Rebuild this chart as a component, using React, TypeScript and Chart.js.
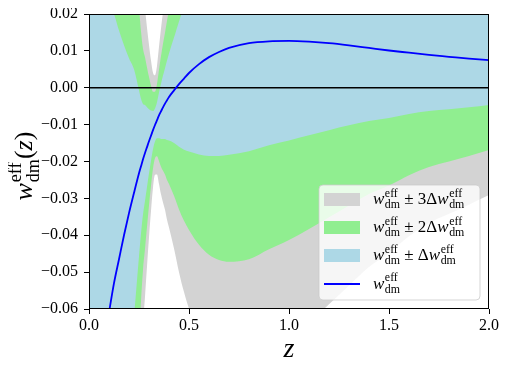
import React, { useEffect, useRef } from "react";
import { Chart, registerables } from "chart.js";
Chart.register(...registerables);

// redshift grid
const zGrid = [0, 0.05, 0.1, 0.125, 0.15, 0.175, 0.2, 0.225, 0.25, 0.26, 0.27, 0.28, 0.29, 0.3, 0.31, 0.32, 0.33, 0.34, 0.35, 0.36, 0.37, 0.38, 0.39, 0.4, 0.425, 0.45, 0.475, 0.5, 0.55, 0.6, 0.65, 0.7, 0.8, 0.9, 1.0, 1.1, 1.2, 1.3, 1.4, 1.5, 1.6, 1.7, 1.8, 1.9, 2.0];
// w_dm^eff(z)
const wEff = [-0.098, -0.078, -0.061, -0.053, -0.0465, -0.040, -0.034, -0.0285, -0.0232, -0.0213, -0.0194, -0.0177, -0.0161, -0.0145, -0.0130, -0.0115, -0.0101, -0.0088, -0.0075, -0.0064, -0.0053, -0.0043, -0.0034, -0.0025, -0.0007, 0.0010, 0.0025, 0.0040, 0.0064, 0.0083, 0.0097, 0.0108, 0.0121, 0.0126, 0.0127, 0.0125, 0.0121, 0.0115, 0.0108, 0.0101, 0.0095, 0.0089, 0.0084, 0.0079, 0.0075];
// Delta w_dm^eff(z)
const dwEff = [0.14, 0.11, 0.084, 0.073, 0.062, 0.0515, 0.042, 0.0335, 0.0225, 0.0183, 0.0150, 0.0130, 0.0108, 0.0087, 0.0068, 0.0052, 0.0045, 0.0049, 0.0062, 0.0075, 0.0086, 0.0096, 0.0108, 0.0118, 0.0143, 0.0170, 0.0193, 0.0213, 0.0245, 0.0268, 0.0282, 0.0290, 0.0293, 0.0282, 0.0270, 0.0254, 0.0236, 0.0217, 0.0198, 0.0183, 0.0166, 0.0152, 0.0142, 0.0132, 0.0122];
// sigma multiples of the bands (drawn widest first)
const sigmaLevels = [3, 2, 1];
const bandColors = ["#d3d3d3", "#90ee90", "#add8e6"];
const xTickValues = [0, 0.5, 1.0, 1.5, 2.0];
const yTickValues = [-0.06, -0.05, -0.04, -0.03, -0.02, -0.01, 0.0, 0.01, 0.02];

const SERIF = '"Liberation Serif", "DejaVu Serif", serif';

function drawWeff(ctx: CanvasRenderingContext2D, x: number, y: number, size: number): number {
  ctx.font = `italic ${size}px ${SERIF}`;
  ctx.fillText("w", x, y);
  x += ctx.measureText("w").width + size * 0.03;
  const s = size * 0.7;
  ctx.font = `${s}px ${SERIF}`;
  ctx.fillText("eff", x, y - size * 0.42);
  ctx.fillText("dm", x, y + size * 0.25);
  x += Math.max(ctx.measureText("eff").width, ctx.measureText("dm").width);
  return x;
}
function measureWeff(ctx: CanvasRenderingContext2D, size: number): number {
  ctx.font = `italic ${size}px ${SERIF}`;
  let w = ctx.measureText("w").width + size * 0.03;
  ctx.font = `${size * 0.7}px ${SERIF}`;
  w += Math.max(ctx.measureText("eff").width, ctx.measureText("dm").width);
  return w;
}

const decorPlugin = {
  id: "decor",
  afterDraw(chart: any) {
    const ctx: CanvasRenderingContext2D = chart.ctx;
    const a = chart.chartArea;
    ctx.save();
    // spines
    ctx.strokeStyle = "#000";
    ctx.lineWidth = 1;
    const l = Math.round(a.left) + 0.5, r = Math.round(a.right) - 0.5;
    const t = Math.round(a.top) + 0.5, b = Math.round(a.bottom) - 0.5;
    ctx.strokeRect(l, t, r - l, b - t);

    ctx.fillStyle = "#000";
    ctx.textBaseline = "alphabetic";
    ctx.textAlign = "left";
    // x label
    ctx.font = `italic 28px ${SERIF}`;
    const zw = ctx.measureText("z").width;
    ctx.fillText("z", (a.left + a.right) / 2 - zw / 2, 349);

    // y label (rotated)
    const ys = 26;
    ctx.font = `${ys}px ${SERIF}`;
    const pw = ctx.measureText("(").width * 2;
    ctx.font = `italic ${ys}px ${SERIF}`;
    const zzw = ctx.measureText("z").width;
    const total = measureWeff(ctx, ys) + pw + zzw;
    ctx.save();
    ctx.translate(24, 158);
    ctx.rotate(-Math.PI / 2);
    let x = -total / 2;
    x = drawWeff(ctx, x, 0, ys);
    ctx.font = `${ys}px ${SERIF}`;
    ctx.fillText("(", x, 0);
    x += pw / 2;
    ctx.font = `italic ${ys}px ${SERIF}`;
    ctx.fillText("z", x, 0);
    x += zzw;
    ctx.font = `${ys}px ${SERIF}`;
    ctx.fillText(")", x, 0);
    ctx.restore();

    // legend
    const bx = 311, by = 177, bw = 161, bh = 115, rad = 4;
    ctx.beginPath();
    ctx.moveTo(bx + rad, by);
    ctx.arcTo(bx + bw, by, bx + bw, by + bh, rad);
    ctx.arcTo(bx + bw, by + bh, bx, by + bh, rad);
    ctx.arcTo(bx, by + bh, bx, by, rad);
    ctx.arcTo(bx, by, bx + bw, by, rad);
    ctx.closePath();
    ctx.fillStyle = "rgba(255,255,255,0.8)";
    ctx.fill();
    ctx.strokeStyle = "rgba(204,204,204,0.8)";
    ctx.lineWidth = 1;
    ctx.stroke();

    const fs = 17;
    const rows = [191.5, 219.5, 247.5, 276];
    sigmaLevels.forEach((k, i) => {
      const cy = rows[i];
      ctx.fillStyle = bandColors[i];
      ctx.fillRect(316, cy - 6.5, 36, 13);
      ctx.fillStyle = "#000";
      let tx = drawWeff(ctx, 365, cy + 4.5, fs);
      ctx.font = `${fs}px ${SERIF}`;
      const mid = k === 1 ? " \u00b1 \u0394" : ` \u00b1 ${k}\u0394`;
      ctx.fillText(mid, tx, cy + 4.5);
      tx += ctx.measureText(mid).width;
      drawWeff(ctx, tx, cy + 4.5, fs);
    });
    ctx.strokeStyle = "#0000ff";
    ctx.lineWidth = 1.8;
    ctx.beginPath();
    ctx.moveTo(316, rows[3]);
    ctx.lineTo(352, rows[3]);
    ctx.stroke();
    ctx.fillStyle = "#000";
    drawWeff(ctx, 365, rows[3] + 4.5, fs);
    ctx.restore();
  },
};

export default function App() {
  const ref = useRef<HTMLCanvasElement>(null);
  useEffect(() => {
    if (!ref.current) return;
    const datasets: any[] = [];
    datasets.push({
      label: "w_dm^eff",
      data: zGrid.map((z, i) => ({ x: z, y: wEff[i] })),
      borderColor: "#0000ff",
      borderWidth: 1.8,
      pointRadius: 0,
      fill: false,
      order: 0,
      cubicInterpolationMode: "monotone",
    });
    datasets.push({
      label: "zero",
      data: [{ x: 0, y: 0 }, { x: 2, y: 0 }],
      borderColor: "#000",
      borderWidth: 1.5,
      pointRadius: 0,
      fill: false,
      order: 1,
    });
    sigmaLevels.forEach((k, i) => {
      const lowerIndex = datasets.length + 1;
      datasets.push({
        label: `w_dm^eff ± ${k}Δw_dm^eff`,
        data: zGrid.map((z, j) => ({ x: z, y: wEff[j] + k * dwEff[j] })),
        borderColor: "rgba(0,0,0,0)",
        borderWidth: 0,
        backgroundColor: bandColors[i],
        pointRadius: 0,
        fill: { target: lowerIndex },
        order: 10 - i * 2,
        cubicInterpolationMode: "monotone",
      });
      datasets.push({
        label: `lower ${k}`,
        data: zGrid.map((z, j) => ({ x: z, y: wEff[j] - k * dwEff[j] })),
        borderColor: "rgba(0,0,0,0)",
        borderWidth: 0,
        pointRadius: 0,
        fill: false,
        order: 11 - i * 2,
        cubicInterpolationMode: "monotone",
      });
    });

    const tickFont = { family: SERIF, size: 16 };
    const chart = new Chart(ref.current, {
      type: "line",
      data: { datasets },
      plugins: [decorPlugin],
      options: {
        responsive: false,
        animation: false,
        devicePixelRatio: 1,
        layout: { padding: { left: 0, right: 11, top: 6, bottom: 0 } },
        plugins: { legend: { display: false }, tooltip: { enabled: false } },
        scales: {
          x: {
            type: "linear",
            min: 0,
            max: 2,
            afterBuildTicks: (s: any) => {
              s.ticks = xTickValues.map((v) => ({ value: v }));
            },
            afterFit: (s: any) => {
              s.height = 53;
              s.paddingLeft = 0;
              s.paddingRight = 0;
            },
            ticks: {
              font: tickFont,
              color: "#000",
              padding: 2,
              maxRotation: 0,
              autoSkip: false,
              callback: (v: any) => Number(v).toFixed(1),
            },
            grid: { drawOnChartArea: false, tickLength: 5, color: "#000", tickColor: "#000" },
            border: { display: false },
          },
          y: {
            type: "linear",
            min: -0.06,
            max: 0.02,
            afterBuildTicks: (s: any) => {
              s.ticks = yTickValues.map((v) => ({ value: v }));
            },
            afterFit: (s: any) => {
              s.width = 81;
              s.paddingTop = 0;
              s.paddingBottom = 0;
            },
            ticks: {
              font: tickFont,
              color: "#000",
              padding: 6,
              autoSkip: false,
              callback: (v: any) => {
                const n = Number(v);
                if (Math.abs(n) < 1e-9) return "0.00";
                return (n < 0 ? "\u2212" : "") + Math.abs(n).toFixed(2);
              },
            },
            grid: { drawOnChartArea: false, tickLength: 5, color: "#000", tickColor: "#000" },
            border: { display: false },
          },
        },
      } as any,
    });
    return () => chart.destroy();
  }, []);
  return (
    <div style={{ width: 492, height: 354 }}>
      <canvas ref={ref} width={492} height={354} style={{ display: "block" }} />
    </div>
  );
}
